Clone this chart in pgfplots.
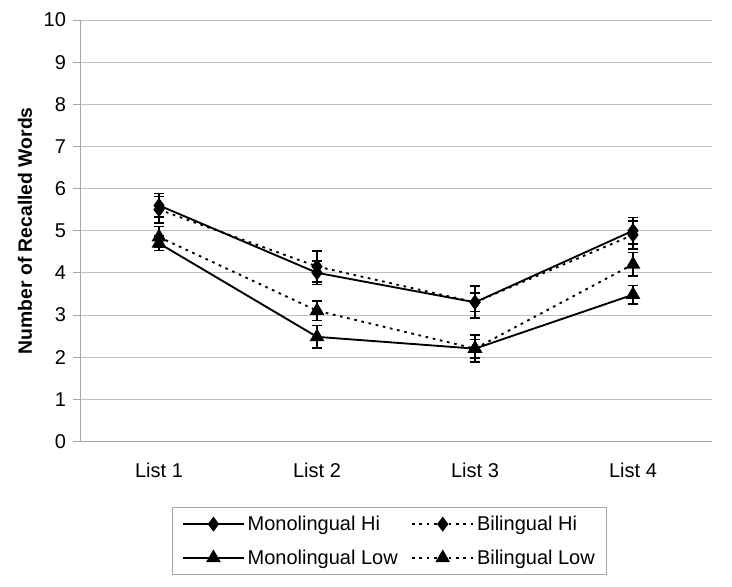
\documentclass[border=0pt]{standalone}
\usepackage{pgfplots}
\pgfplotsset{compat=1.18}
\usepackage{fontspec}
\setmainfont{Liberation Sans}
\newcommand{\chartfont}{\fontsize{15}{18}\selectfont}
\begin{document}
\begin{tikzpicture}
\useasboundingbox (-60pt,-108.75pt) rectangle (489pt,331pt);
\begin{axis}[
  at={(0pt,0pt)}, anchor=south west,
  scale only axis, width=474pt, height=316pt,
  xmin=0.5, xmax=4.5, ymin=0, ymax=10,
  ytick={0,1,...,10},
  xtick={1,2,3,4}, xticklabels={List 1,List 2,List 3,List 4},
  extra x ticks={1.5,2.5,3.5}, extra x tick labels={},
  extra x tick style={grid=none, major tick length=5pt},
  x tick style={draw=none},
  y tick style={color=gray!70, line width=0.6pt},
  major tick length=5pt,
  tick align=outside,
  axis x line*=bottom, axis y line*=left,
  axis line style={draw=gray!70, line width=0.6pt, -},
  ymajorgrids, grid style={color=gray!50, line width=0.6pt},
  tick label style={font=\chartfont},
  /pgf/number format/assume math mode=true,
  xticklabel style={yshift=-8pt},
  yticklabel style={xshift=-2pt},
  ylabel={\bfseries Number of Recalled Words},
  ylabel style={font=\fontsize{14.5}{17}\selectfont, at={(axis description cs:-0.087,0.5)}, anchor=center},
  legend columns=2,
  legend cell align=left,
  legend style={at={(axis description cs:0.49,-0.157)}, anchor=north, draw=gray!70, line width=0.6pt,
    font=\chartfont, nodes={font=\chartfont}, inner xsep=7pt, inner ysep=4pt,
    row sep=9pt,
    /tikz/every even column/.append style={column sep=8pt}},
  legend image code/.code={\draw[mark repeat=2,mark phase=2] plot coordinates {(0pt,0pt) (23pt,0pt) (46pt,0pt)};},
  error bars/y dir=both, error bars/y explicit,
  error bars/error mark=-,
  error bars/error mark options={rotate=90, mark size=4pt, line width=1.3pt, black, solid},
  error bars/error bar style={line width=1.3pt, black, solid},
]
\addplot[black, line width=1.4pt, mark=diamond*, mark size=4.5pt, mark options={solid}]
  coordinates {(1,5.6) +- (0,0.28) (2,4.0) +- (0,0.28) (3,3.3) +- (0,0.22) (4,5.0) +- (0,0.31)};
\addlegendentry{Monolingual Hi}
\addplot[black, line width=1.4pt, dash pattern=on 2pt off 3.5pt, mark=diamond*, mark size=4.5pt, mark options={solid}]
  coordinates {(1,5.5) +- (0,0.31) (2,4.15) +- (0,0.36) (3,3.3) +- (0,0.38) (4,4.9) +- (0,0.33)};
\addlegendentry{Bilingual Hi}
\addplot[black, line width=1.4pt, mark=triangle*, mark size=5pt, mark options={solid}]
  coordinates {(1,4.7) +- (0,0.17) (2,2.48) +- (0,0.27) (3,2.2) +- (0,0.32) (4,3.48) +- (0,0.22)};
\addlegendentry{Monolingual Low}
\addplot[black, line width=1.4pt, dash pattern=on 2pt off 3.5pt, mark=triangle*, mark size=5pt, mark options={solid}]
  coordinates {(1,4.85) +- (0,0.25) (2,3.1) +- (0,0.23) (3,2.2) +- (0,0.22) (4,4.2) +- (0,0.28)};
\addlegendentry{Bilingual Low}
\end{axis}
\end{tikzpicture}
\end{document}
